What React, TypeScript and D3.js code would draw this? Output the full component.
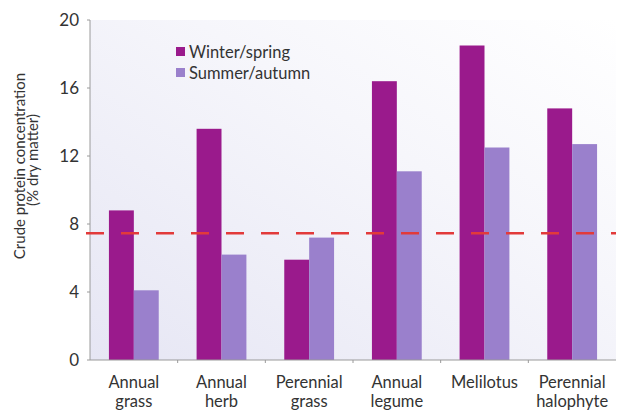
import * as d3 from 'd3'

const categories = [
  ['Annual', 'grass'],
  ['Annual', 'herb'],
  ['Perennial', 'grass'],
  ['Annual', 'legume'],
  ['Melilotus'],
  ['Perennial', 'halophyte'],
]
const seriesNames = ['Winter/spring', 'Summer/autumn']
const winterSpring = [8.8, 13.6, 5.9, 16.4, 18.5, 14.8]
const summerAutumn = [4.1, 6.2, 7.2, 11.1, 12.5, 12.7]
const yTicks = [0, 4, 8, 12, 16, 20]
const threshold = 7.45

const colors = ['#9a1a8c', '#9a80cc']

export default function App() {
  const width = 620
  const height = 410
  const left = 90
  const right = 616
  const top = 20
  const bottom = 360

  const keys = categories.map((c) => c.join(' '))
  const x = d3.scaleBand<string>().domain(keys).range([left, right]).padding(0)
  const xInner = d3
    .scaleBand<string>()
    .domain(seriesNames)
    .range([0, x.bandwidth()])
    .paddingInner(0)
    .paddingOuter(0.76)
  const y = d3.scaleLinear().domain([0, 20]).range([bottom, top])
  const series = [winterSpring, summerAutumn]
  const font = 'Lato, "Open Sans", sans-serif'

  return (
    <svg
      width={width}
      height={height}
      style={{ position: 'absolute', left: 0, top: 0, background: '#fff' }}
      fontFamily={font}
    >
      <defs>
        <linearGradient id="bg" x1="0" y1="1" x2="1" y2="0">
          <stop offset="0" stopColor="#e6e6f4" />
          <stop offset="0.6" stopColor="#f6f6fb" />
          <stop offset="1" stopColor="#ffffff" />
        </linearGradient>
      </defs>
      <rect x={left} y={top} width={right - left} height={bottom - top} fill="url(#bg)" />

      {/* y axis */}
      <line x1={left} x2={left} y1={top} y2={bottom} stroke="#9a9a9a" />
      {yTicks.map((t) => (
        <g key={t} transform={`translate(0, ${y(t)})`}>
          <line x1={left - 3} x2={left} stroke="#9a9a9a" />
          <text x={left - 11} y={6} textAnchor="end" fontSize={17} fill="#333">
            {t}
          </text>
        </g>
      ))}

      <text transform="translate(25, 166) rotate(-90)" textAnchor="middle" fontSize={15} fill="#333">
        Crude protein concentration
      </text>
      <text transform="translate(38, 160) rotate(-90)" textAnchor="middle" fontSize={15} fill="#333">
        (% dry matter)
      </text>

      {/* bars */}
      {keys.map((k, i) => (
        <g key={k} transform={`translate(${x(k)}, 0)`}>
          {series.map((s, j) => (
            <rect
              key={seriesNames[j]}
              x={xInner(seriesNames[j])}
              y={y(s[i])}
              width={xInner.bandwidth()}
              height={y(0) - y(s[i])}
              fill={colors[j]}
            />
          ))}
        </g>
      ))}

      {/* x axis */}
      <line x1={left} x2={right} y1={bottom} y2={bottom} stroke="#9a9a9a" />
      {keys.slice(1).map((k) => (
        <line key={k} x1={x(k)} x2={x(k)} y1={bottom} y2={bottom + 3} stroke="#9a9a9a" />
      ))}
      {categories.map((c, i) =>
        c.map((line, li) => (
          <text
            key={`${keys[i]}-${li}`}
            x={(x(keys[i]) ?? 0) + x.bandwidth() / 2}
            y={388 + li * 19}
            textAnchor="middle"
            fontSize={16.5}
            fill="#333"
          >
            {line}
          </text>
        ))
      )}

      {/* threshold */}
      <line
        x1={left - 4}
        x2={right}
        y1={y(threshold)}
        y2={y(threshold)}
        stroke="#e23a3a"
        strokeWidth={2.5}
        strokeDasharray="18 17"
      />

      {/* legend */}
      {seriesNames.map((n, j) => (
        <g key={n} transform={`translate(176, ${52 + j * 21})`}>
          <rect x={0} y={-5} width={9} height={9} fill={colors[j]} />
          <text x={13} y={5.5} fontSize={16.5} fill="#333">
            {n}
          </text>
        </g>
      ))}
    </svg>
  )
}
